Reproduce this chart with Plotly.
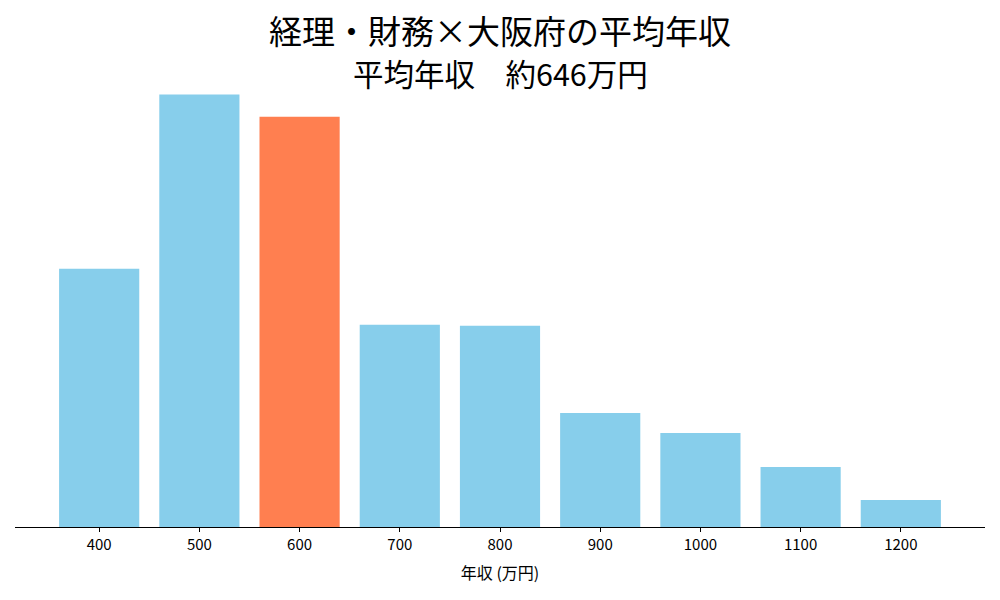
import plotly.graph_objects as go

# 年収レンジ (万円) と人数の相対値
salary_bins = [400, 500, 600, 700, 800, 900, 1000, 1100, 1200]
counts = [258, 432, 410, 202, 201, 114, 94, 60, 27]
highlight_bin = 600

title_text = "経理・財務×大阪府の平均年収"
subtitle_text = "平均年収　約646万円"
xlabel_text = "年収 (万円)"

FONT = "Noto Sans CJK JP"
colors = ["#FF7F50" if b == highlight_bin else "#87CEEB" for b in salary_bins]

fig = go.Figure()
fig.add_trace(go.Bar(
    x=salary_bins,
    y=counts,
    width=80,
    marker=dict(color=colors, line=dict(width=0)),
    hoverinfo="x+y",
))

fig.update_layout(
    width=1000,
    height=600,
    paper_bgcolor="white",
    plot_bgcolor="white",
    showlegend=False,
    font=dict(family=FONT, color="black"),
    margin=dict(l=15, r=15, t=73, b=73, autoexpand=False),
    title=dict(
        text=title_text,
        x=0.5, xanchor="center",
        y=1 - 32 / 600, yanchor="middle",
        yref="container",
        font=dict(family=FONT, size=33, color="black"),
    ),
    annotations=[dict(
        text=subtitle_text,
        xref="paper", yref="paper",
        x=0.5, y=1.0,
        xanchor="center", yanchor="middle",
        showarrow=False,
        font=dict(family=FONT, size=30.5, color="black"),
    )],
)

fig.update_xaxes(
    range=[316, 1284],
    tickmode="array",
    tickvals=salary_bins,
    ticktext=[str(b) for b in salary_bins],
    ticks="outside",
    ticklen=4,
    tickwidth=1,
    tickcolor="black",
    tickfont=dict(family=FONT, size=15, color="black"),
    showline=True,
    linecolor="black",
    linewidth=1,
    showgrid=False,
    zeroline=False,
    automargin=False,
    title=dict(text=xlabel_text, standoff=14,
               font=dict(family=FONT, size=16, color="black")),
)
fig.update_yaxes(
    range=[0, max(counts) * 1.05],
    visible=False,
    showgrid=False,
    zeroline=False,
)

# ページ余白をなくして図を左上に揃える
fig.write_html(
    "out.html",
    config={"displayModeBar": False},
    post_script="document.body.style.margin='0';",
)
